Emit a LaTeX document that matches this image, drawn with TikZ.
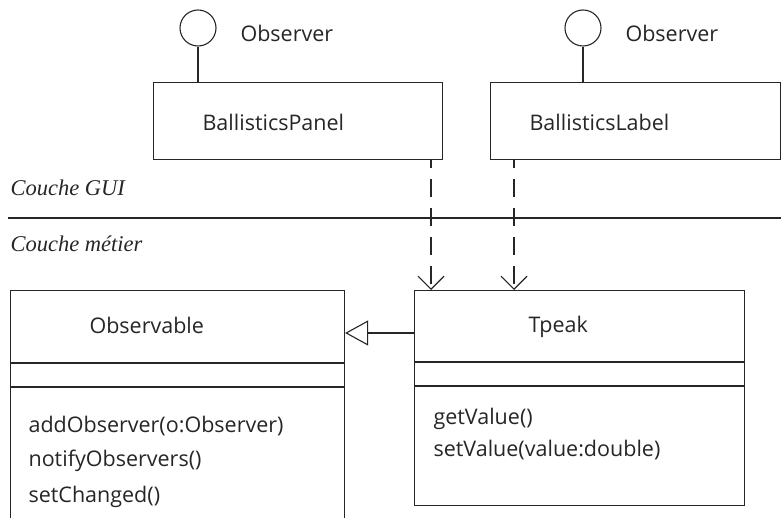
\documentclass[tikz,border=0pt]{standalone}
\usepackage{fontspec}
\setmainfont{Liberation Serif}
\newfontfamily\umlfont{Open Sans}
\usepackage{tikz}
\usetikzlibrary{calc}
\usetikzlibrary{positioning}
\usetikzlibrary{arrows.meta}

\begin{document}
\begin{tikzpicture}[x=1pt,y=-1pt,line width=1.1pt,color=black!85,
	  class box/.style={draw, rectangle, inner sep=0pt, anchor=north west},
	  iface node/.style={circle, draw, minimum size=36pt, inner sep=0pt},
	  uml text/.style={font=\umlfont\fontsize{21.5}{24}\selectfont, inner sep=0pt, anchor=base west},
	  layer text/.style={font=\itshape\fontsize{22.5}{26}\selectfont, inner sep=0pt, anchor=base west},
	  dep/.style={dash pattern=on 18pt off 11pt, dash phase=10pt, -{Straight Barb[length=13pt,width=26pt]}},
	  gen/.style={-{Triangle[open,length=23pt,width=25pt,fill=white]}}]

	  \useasboundingbox (0,0) rectangle (781,518);
	  \clip (0,0) rectangle (781,518);

	  % GUI layer
	  \node[class box, minimum width=289pt, minimum height=77pt] (panel) at (153,82) {};
	  \node[class box, minimum width=290pt, minimum height=77pt] (label) at (490,82) {};
	  \node[uml text] (panelName) at ($ (panel.north west) + (49,49) $) {BallisticsPanel};
	  \node[uml text] (labelName) at ($ (label.north west) + (39,49) $) {BallisticsLabel};

	  \node[iface node] (obsPanel) at (198,28) {};
	  \node[iface node] (obsLabel) at (583,28) {};
	  \node[uml text] (obsPanelName) at (240,42) {Observer};
	  \node[uml text] (obsLabelName) at (625,42) {Observer};
	  \draw (obsPanel) -- (panel.north -| obsPanel);
	  \draw (obsLabel) -- (label.north -| obsLabel);

	  % layers
	  \node[layer text] (gui) at (10,196) {Couche GUI};
	  \node[layer text] (metier) at (10,252) {Couche métier};
	  \coordinate (layerL) at (8,218);
	  \coordinate (layerR) at (781,218);
	  \draw (layerL) -- (layerR);

	  % business layer
	  \node[class box, minimum width=334pt, minimum height=240pt] (observable) at (10,290) {};
	  \node[class box, minimum width=330pt, minimum height=215pt] (tpeak) at (414,290) {};
	  \draw ($ (observable.north west) + (0,73) $) -- ($ (observable.north east) + (0,73) $);
	  \draw ($ (observable.north west) + (0,97) $) -- ($ (observable.north east) + (0,97) $);
	  \draw ($ (tpeak.north west) + (0,72) $) -- ($ (tpeak.north east) + (0,72) $);
	  \draw ($ (tpeak.north west) + (0,96) $) -- ($ (tpeak.north east) + (0,96) $);

	  \node[uml text] (observableName) at (89,333) {Observable};
	  \node[uml text] (tpeakName) at (528,332) {Tpeak};
	  \node[uml text] (addObs) at (28,432) {addObserver(o:Observer)};
	  \node[uml text] (notifyObs) at (28,466) {notifyObservers()};
	  \node[uml text] (setChg) at (28,502) {setChanged()};
	  \node[uml text] (getVal) at (433,424) {getValue()};
	  \node[uml text] (setVal) at (433,456) {setValue(value:double)};

	  \draw[gen] (tpeak.west |- 0,333) -- (observable.east |- 0,333);
	  \draw[dep] (panel.south -| 431,0) -- (tpeak.north -| 431,0);
	  \draw[dep] (label.south -| 514,0) -- (tpeak.north -| 514,0);
	\end{tikzpicture}
\end{document}
